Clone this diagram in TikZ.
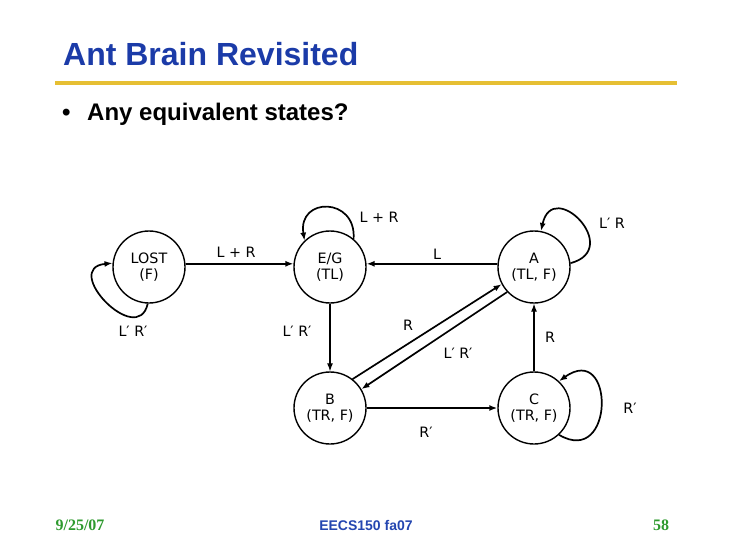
\documentclass[tikz,border=0pt]{standalone}
\usepackage{fontspec}
\setmainfont{Liberation Sans}
\newfontfamily\fsmfont{DejaVu Sans}
\newfontfamily\footserif{Liberation Serif}
\usetikzlibrary{arrows.meta}
\definecolor{headblue}{HTML}{1B3BA8}
\definecolor{rulegold}{HTML}{E6BF33}
\definecolor{footgreen}{HTML}{2E9A2E}
\definecolor{footblue}{HTML}{2446B0}
\tikzset{
  every node/.style = {inner sep=0pt},
  fsmstate/.style   = {circle, draw, line width=1.4pt, minimum size=72pt, inner sep=0pt,
                       align=center, font=\fsmfont\fontsize{14.3}{16.5}\selectfont},
  fsmlab/.style     = {font=\fsmfont\fontsize{14.3}{16.5}\selectfont},
  fsmgo/.style      = {-{Latex[length=8pt,width=6pt]}, line width=1.7pt},
  fsmgothin/.style  = {-{Latex[length=8pt,width=6pt]}, line width=1.1pt},
  slidehead/.style  = {font=\bfseries\fontsize{32}{38}\selectfont, text=headblue, anchor=base west},
  slidebul/.style   = {font=\bfseries\fontsize{24}{28}\selectfont, anchor=base west},
  slidefoot/.style  = {font=\bfseries\fontsize{14}{16}\selectfont},
}

\begin{document}
\begin{tikzpicture}[x=1pt, y=1pt]
\useasboundingbox (0,0) rectangle (730,547);

% slide frame
\node[slidehead] (head) at (63,481) {Ant Brain Revisited};
\draw[rulegold, line width=4pt] (55,464) -- (677,464);
\node[slidebul] (dot) at (62,426) {•};
\node[slidebul] (ask) at (87,426) {Any equivalent states?};

\node[slidefoot, font=\footserif\bfseries\fontsize{16}{18}\selectfont, text=footgreen] (date) at (80,22) {9/25/07};
\node[slidefoot, text=footblue] (course) at (366,22) {EECS150 fa07};
\node[slidefoot, font=\footserif\bfseries\fontsize{16}{18}\selectfont, text=footgreen] (page) at (661,22) {58};

% states
\node[fsmstate] (lost) at (149,280) {LOST\\(F)};
\node[fsmstate] (eg)   at (330,280) {E/G\\(TL)};
\node[fsmstate] (a)    at (534,280) {A\\(TL, F)};
\node[fsmstate] (b)    at (330,139) {B\\(TR, F)};
\node[fsmstate] (c)    at (534,139) {C\\(TR, F)};

% transitions
\draw[fsmgo] (lost.5) -- (eg.175);
\draw[fsmgo] (a.175) -- (eg.5);
\draw[fsmgo] (b) -- (c);
\draw[fsmgo] (b.52) -- (a.208);
\draw[fsmgo] (a.223) -- (b.31);
\draw[fsmgothin] (eg) -- (b);
\draw[fsmgothin] (c) -- (a);

\draw[fsmgo] (lost.268) .. controls +(-10,-45) and +(-52,-5) .. (lost.174);
\draw[fsmgo] (eg.50) .. controls +(3,42) and +(-7,44) .. (eg.134);
\draw[fsmgo] (a.6) .. controls +(53,14) and +(12,54) .. (a.79);
\draw[fsmgo] (c.-47) .. controls +(56,-33) and +(56,40) .. (c.47);

% labels
\node[fsmlab] (lLostEg) at (236,295) {L + R};
\node[fsmlab] (lLost)   at (133,216) {L′ R′};
\node[fsmlab] (lEgB)    at (297,216) {L′ R′};
\node[fsmlab] (lEg)     at (379,330) {L + R};
\node[fsmlab] (lAEg)    at (437,293) {L};
\node[fsmlab] (lA)      at (612,324) {L′ R};
\node[fsmlab] (lBA)     at (408,222) {R};
\node[fsmlab] (lAB)     at (458,194) {L′ R′};
\node[fsmlab] (lCA)     at (550,210) {R};
\node[fsmlab] (lBC)     at (426,115) {R′};
\node[fsmlab] (lC)      at (630,139) {R′};
\end{tikzpicture}
\end{document}
